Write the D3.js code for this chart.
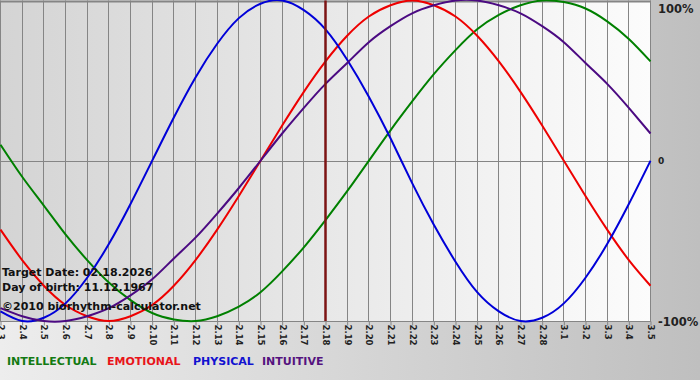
<!DOCTYPE html>
<html>
<head>
<meta charset="utf-8">
<script src="https://cdn.jsdelivr.net/npm/d3@7/dist/d3.min.js"></script>
<style>
  body { margin: 0; background: #fff; }
  svg { display: block; font-family: "DejaVu Sans", Verdana, sans-serif; }
</style>
</head>
<body>
<svg class="js-chart" width="700" height="380"></svg>
<script>
// data (one value per day, -1..1)
var dates = ['2.3', '2.4', '2.5', '2.6', '2.7', '2.8', '2.9', '2.10', '2.11', '2.12', '2.13',
  '2.14', '2.15', '2.16', '2.17', '2.18', '2.19', '2.20', '2.21', '2.22', '2.23', '2.24',
  '2.25', '2.26', '2.27', '2.28', '3.1', '3.2', '3.3', '3.4', '3.5'];

var intellectual = [0.10, -0.10, -0.28, -0.46, -0.62, -0.76, -0.87, -0.95, -0.99, -1.00, -0.97,
  -0.91, -0.82, -0.69, -0.54, -0.37, -0.19, 0.00, 0.19, 0.37, 0.54, 0.69,
  0.82, 0.91, 0.97, 1.00, 0.99, 0.95, 0.87, 0.76, 0.62];
var emotional = [-0.43, -0.62, -0.78, -0.90, -0.97, -1.00, -0.97, -0.90, -0.78, -0.62, -0.43,
  -0.22, 0.00, 0.22, 0.43, 0.62, 0.78, 0.90, 0.97, 1.00, 0.97, 0.90,
  0.78, 0.62, 0.43, 0.22, 0.00, -0.22, -0.43, -0.62, -0.78];
var physical = [-0.94, -1.00, -0.98, -0.89, -0.73, -0.52, -0.27, 0.00, 0.27, 0.52, 0.73,
  0.89, 0.98, 1.00, 0.94, 0.82, 0.63, 0.40, 0.14, -0.14, -0.40, -0.63,
  -0.82, -0.94, -1.00, -0.98, -0.89, -0.73, -0.52, -0.27, 0.00];
var intuitive = [-0.92, -0.97, -1.00, -1.00, -0.97, -0.92, -0.84, -0.74, -0.61, -0.48, -0.33,
  -0.17, 0.00, 0.17, 0.33, 0.48, 0.61, 0.74, 0.84, 0.92, 0.97, 1.00,
  1.00, 0.97, 0.92, 0.84, 0.74, 0.61, 0.48, 0.33, 0.17];

var yTicks = [1, 0, -1],
    yTickLabels = ['100%', '0', '-100%'];

var targetDate = '2.18';
var infoLines = ['Target Date: 02.18.2026', 'Day of birth: 11.12.1967', '\u00a92010 biorhythm-calculator.net'];

var series = [
  { name: 'INTELLECTUAL', values: intellectual, color: '#008000', text: '#137a13' },
  { name: 'EMOTIONAL', values: emotional, color: '#ee0000', text: '#e8141a' },
  { name: 'PHYSICAL', values: physical, color: '#0000d8', text: '#1212d0' },
  { name: 'INTUITIVE', values: intuitive, color: '#4b0a82', text: '#55137f' }
];

// layout
var width = 700, height = 380,
    plotW = 650, plotTop = 0.5, plotBottom = 321;

var svg = d3.select('.js-chart');
var defs = svg.append('defs');

var bgGrad = defs.append('linearGradient').attr('id', 'bg-grad');
bgGrad.append('stop').attr('offset', '0%').attr('stop-color', '#ededed');
bgGrad.append('stop').attr('offset', '100%').attr('stop-color', '#bfbfbf');

var plotGrad = defs.append('linearGradient').attr('id', 'plot-grad');
plotGrad.append('stop').attr('offset', '0%').attr('stop-color', '#d4d4d4');
plotGrad.append('stop').attr('offset', '100%').attr('stop-color', '#fcfcfc');

svg.append('rect').attr('width', width).attr('height', height).attr('fill', 'url(#bg-grad)');

var x = d3.scaleLinear().domain([0, dates.length - 1]).range([0.5, plotW + 0.5]);
var y = d3.scaleLinear().domain([-1, 1]).range([plotBottom, plotTop]);

svg.append('rect')
    .attr('x', 0).attr('y', plotTop)
    .attr('width', plotW + 0.5).attr('height', plotBottom - plotTop)
    .attr('fill', 'url(#plot-grad)');

// vertical grid
svg.append('g')
  .selectAll('line')
  .data(dates)
  .enter().append('line')
    .attr('x1', function (d, i) { return Math.round(x(i) - 0.5) + 0.5; })
    .attr('x2', function (d, i) { return Math.round(x(i) - 0.5) + 0.5; })
    .attr('y1', plotTop).attr('y2', plotBottom)
    .attr('stroke', '#858585').attr('stroke-width', 1);

// horizontal lines (top, zero, bottom)
svg.append('g')
  .selectAll('line')
  .data(yTicks)
  .enter().append('line')
    .attr('x1', 0).attr('x2', plotW + 1)
    .attr('y1', function (d) { return Math.round(y(d)) + 0.5; })
    .attr('y2', function (d) { return Math.round(y(d)) + 0.5; })
    .attr('stroke', '#858585').attr('stroke-width', function (d) { return d === 1 ? 2 : 1; });

// bottom axis
var xAxis = d3.axisBottom(x)
    .tickValues(d3.range(dates.length))
    .tickFormat(function (i) { return dates[i]; })
    .tickSize(4)
    .tickSizeOuter(0);

var xAxisG = svg.append('g')
    .attr('transform', 'translate(0,' + (Math.round(plotBottom) + 0.5) + ')')
    .call(xAxis);
xAxisG.select('.domain').remove();
xAxisG.selectAll('.tick line').attr('stroke', '#858585');
xAxisG.selectAll('.tick text')
    .attr('transform', 'rotate(90)')
    .attr('x', 3).attr('y', 0).attr('dy', '0.35em')
    .attr('text-anchor', 'start')
    .attr('fill', '#222')
    .style('font-size', '8.5px')
    .style('font-weight', 'bold')
    .style('font-family', '"DejaVu Sans", Verdana, sans-serif');

// right axis labels
var yAxis = d3.axisRight(y)
    .tickValues(yTicks)
    .tickFormat(function (d, i) { return yTickLabels[i]; })
    .tickSize(0);

var yAxisG = svg.append('g')
    .attr('transform', 'translate(' + (plotW + 8) + ',0)')
    .call(yAxis);
yAxisG.select('.domain').remove();
yAxisG.selectAll('.tick text')
    .attr('x', 0)
    .attr('fill', '#222')
    .attr('dy', function (d) { return d === 1 ? '1.05em' : '0.35em'; })
    .style('font-size', function (d) { return d === 0 ? '9px' : '11.5px'; })
    .style('font-weight', 'bold')
    .style('font-family', '"DejaVu Sans", Verdana, sans-serif');

// curves
var line = d3.line()
    .x(function (d, i) { return x(i); })
    .y(function (d) { return y(d); })
    .curve(d3.curveNatural);

svg.append('g')
  .selectAll('path')
  .data(series)
  .enter().append('path')
    .attr('d', function (s) { return line(s.values); })
    .attr('fill', 'none')
    .attr('stroke', function (s) { return s.color; })
    .attr('stroke-width', 2);

// target date marker
var ti = dates.indexOf(targetDate);
svg.append('line')
    .attr('x1', x(ti)).attr('x2', x(ti))
    .attr('y1', plotTop).attr('y2', plotBottom)
    .attr('stroke', '#7d1414').attr('stroke-width', 2.5);

// info text
svg.append('g')
  .selectAll('text')
  .data(infoLines)
  .enter().append('text')
    .attr('x', 2)
    .attr('y', function (d, i) { return [276, 291, 310][i]; })
    .attr('fill', '#111')
    .style('font-size', '11px')
    .style('font-weight', 'bold')
    .text(function (d) { return d; });

// legend
var legendX = [7, 107, 193, 262];
svg.append('g')
  .selectAll('text')
  .data(series)
  .enter().append('text')
    .attr('x', function (d, i) { return legendX[i]; })
    .attr('y', 365)
    .attr('fill', function (s) { return s.text; })
    .style('font-size', '11px')
    .style('font-weight', 'bold')
    .text(function (s) { return s.name; });
</script>
</body>
</html>
